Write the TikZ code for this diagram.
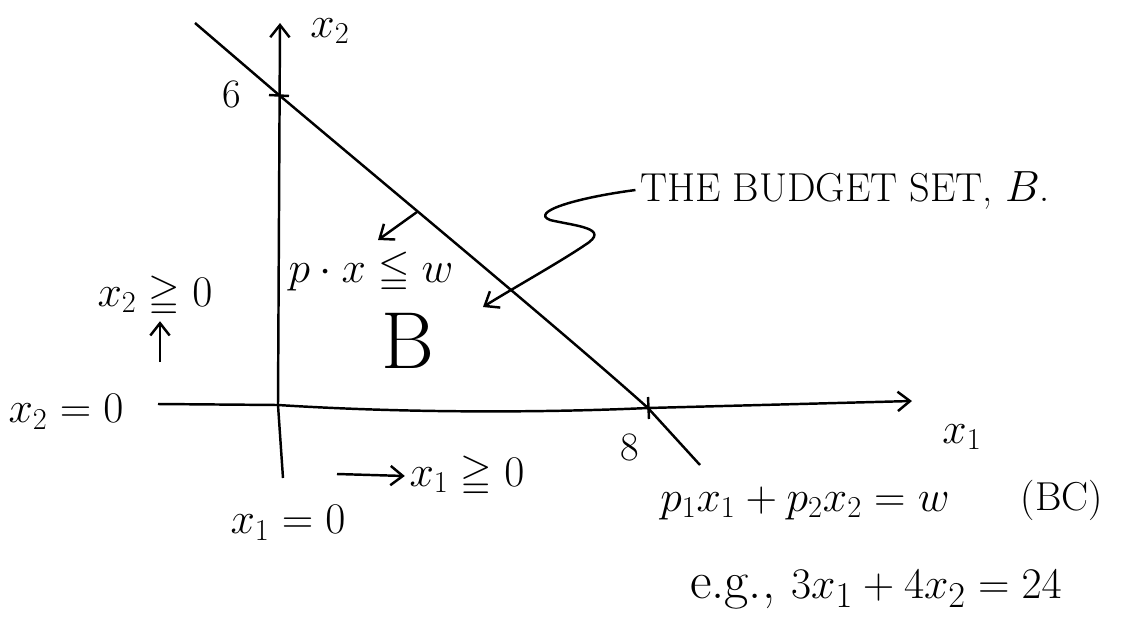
\documentclass[tikz,border=0pt]{standalone}
\usepackage{amsmath,amssymb}
\usetikzlibrary{arrows.meta}

\begin{document}
\begin{tikzpicture}[x=0.02cm,y=-0.02cm,line width=1.4pt,>={Straight Barb[length=7pt,width=11pt]},
  every node/.style={font=\fontsize{23}{27}\selectfont,inner sep=2pt}]
  \useasboundingbox (0,0) rectangle (1126,626);
  % axes
  \coordinate (O) at (278,405);
  \coordinate (x2top) at (280,23);
  \coordinate (x2bot) at (283,478);
  \coordinate (x1left) at (158,404);
  \coordinate (x1right) at (912,401);
  \coordinate (b8) at (648,408);
  \draw[->] (x2bot) -- (O) -- (x2top);
  \draw[->] (x1left) -- (O) .. controls (420,414) and (560,412) .. (b8) -- (x1right);
  % budget line
  \coordinate (bstart) at (195,23);
  \coordinate (b6) at (279,95);
  \coordinate (bend) at (700,465);
  \draw (bstart) -- (b6) .. controls (400,197) and (570,338) .. (b8) -- (bend);
  \draw (b6) ++(-10,0) -- ++(20,1);
  \draw (b8) ++(0,-11) -- ++(1,22);
  \node (six) at (232,94) {6};
  \node (eight) at (630,447) {8};
  \node (lx2) at (330,31) {$x_2$};
  \node (lx1) at (962,437) {$x_1$};
  % inside the set
  \node (pxw) at (371,272) {$p\cdot x \leqq w$};
  \coordinate (nrm) at (417,212);
  \coordinate (nrmtip) at (378,240);
  \draw[->] (nrm) -- (nrmtip);
  \node (bigB) at (408,341) {\fontsize{46}{50}\selectfont B};
  % label of the set
  \node[font=\fontsize{23}{27}\selectfont] (bset) at (845,190) {THE BUDGET SET, $B$.};
  \coordinate (stip) at (483,307);
  \draw[->] (bset.west) .. controls (575,198) and (530,212) .. (550,220)
    .. controls (575,226) and (612,228) .. (585,245)
    .. controls (560,262) and (510,290) .. (stip);
  % constraints
  \node (nn2) at (155,296) {$x_2 \geqq 0$};
  \coordinate (up2) at (160,362);
  \draw[->] (up2) -- (nn2.south -| up2);
  \node (z2) at (66,412) {$x_2 = 0$};
  \node (z1) at (288,523) {$x_1 = 0$};
  \node (nn1) at (467,476) {$x_1 \geqq 0$};
  \coordinate (rt1) at (337,474);
  \draw[->] (rt1) -- (nn1.west);
  % budget constraint
  \node (bc) at (805,503) {$p_1x_1 + p_2x_2 = w$};
  \node (bctag) at (1062,500) {(BC)};
  \node[font=\fontsize{30}{34}\selectfont] (eg) at (876,590) {e.g., $3x_1 + 4x_2 = 24$};
\end{tikzpicture}
\end{document}
